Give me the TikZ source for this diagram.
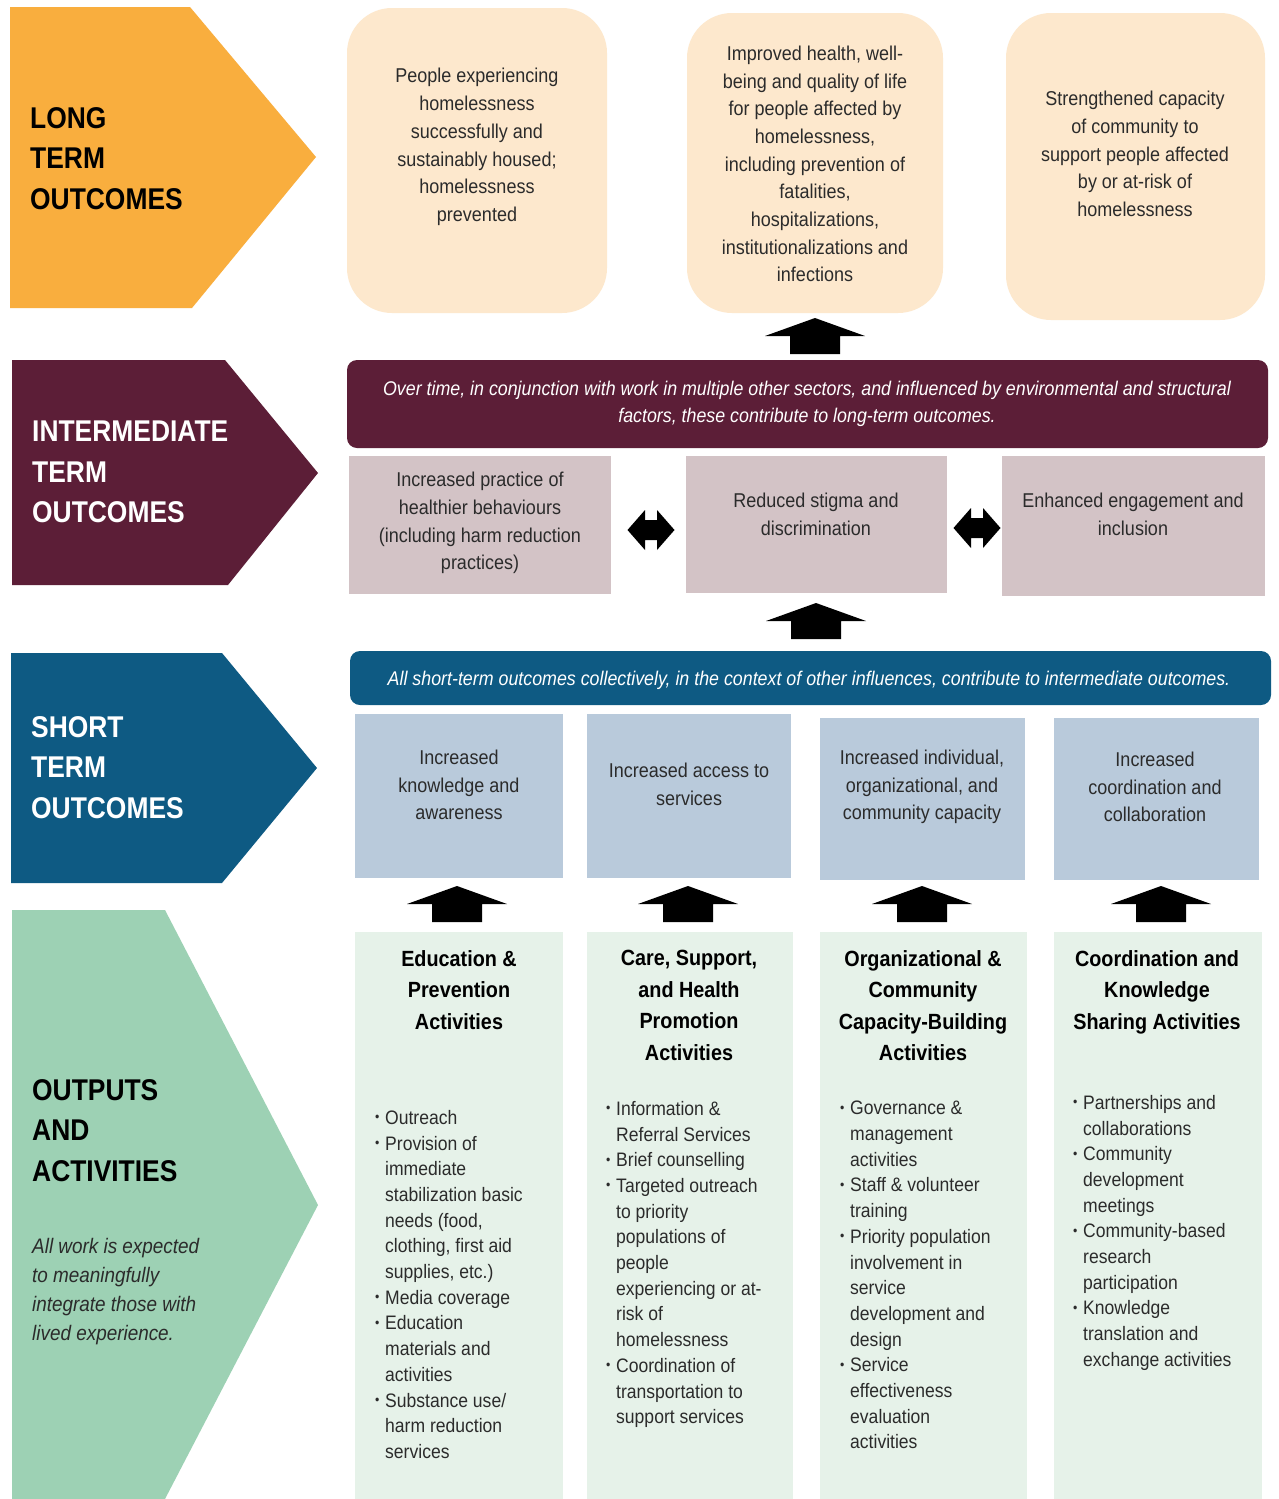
\documentclass[tikz,border=0pt]{standalone}
\usepackage{fontspec}
\setmainfont[FakeStretch=0.9]{Liberation Sans}
\newfontfamily\headfont[FakeStretch=0.88]{Liberation Sans}
\definecolor{ltorange}{HTML}{F9AE3E}
\definecolor{maroonc}{HTML}{5C1E37}
\definecolor{deepblue}{HTML}{0E5A83}
\definecolor{mint}{HTML}{9DD1B4}
\definecolor{peach}{HTML}{FDE8CD}
\definecolor{mauve}{HTML}{D3C3C6}
\definecolor{paleblue}{HTML}{B9CADB}
\definecolor{palegreen}{HTML}{E6F2E9}
\definecolor{txt}{HTML}{2B2B2B}
\newcommand{\bl}{\makebox[10pt][l]{\raisebox{0.25ex}{\scalebox{0.7}{•}}}}
\newcommand{\ind}{\hspace*{10pt}}
\newcommand{\uparr}[2]{\fill[black] (#1-50,#2+18) -- (#1,#2) -- (#1+50,#2+18) -- (#1+25,#2+18) -- (#1+25,#2+36) -- (#1-25,#2+36) -- (#1-25,#2+18) -- cycle;}
\newcommand{\dblarr}[2]{\fill[black] (#1-23.5,#2) -- (#1-6,#2-20) -- (#1-6,#2-10) -- (#1+6,#2-10) -- (#1+6,#2-20) -- (#1+23.5,#2) -- (#1+6,#2+20) -- (#1+6,#2+10) -- (#1-6,#2+10) -- (#1-6,#2+20) -- cycle;}
\begin{document}
\begin{tikzpicture}[x=1pt,y=-1pt,
  heading/.style={anchor=north west, inner sep=0pt, align=left, font=\headfont\fontsize{30}{40.5}\selectfont\bfseries},
  boxtext/.style={inner sep=0pt, align=center, text=txt, font=\fontsize{20}{27.7}\selectfont},
  bannertext/.style={inner sep=0pt, align=center, text=white, font=\fontsize{19.8}{27}\selectfont\itshape},
  titletext/.style={anchor=north, inner sep=0pt, align=center, text=black, font=\fontsize{22}{31.5}\selectfont\bfseries},
  listtext/.style={anchor=north west, inner sep=0pt, align=left, text=txt, font=\fontsize{19.5}{25.7}\selectfont},
  rbox/.style={inner sep=0pt, rounded corners=45pt},
  sbox/.style={inner sep=0pt}
]
\useasboundingbox (0,0) rectangle (1278,1499);
\fill[white] (0,0) rectangle (1278,1499);

% chevrons
\fill[ltorange] (10,7) -- (190,7) -- (316,157) -- (192,308) -- (10,308) -- cycle;
\fill[maroonc] (12,360) -- (225,360) -- (318,473) -- (228,585) -- (12,585) -- cycle;
\fill[deepblue] (11,653) -- (222,653) -- (317,768) -- (222,883) -- (11,883) -- cycle;
\fill[mint] (12,910) -- (165,910) -- (318,1205) -- (165,1499) -- (12,1499) -- cycle;

\node[heading, text=black] (hlong) at (30,107) {LONG\\TERM\\OUTCOMES};
\node[heading, text=white] (hinter) at (32,421) {INTERMEDIATE\\TERM\\OUTCOMES};
\node[heading, text=white] (hshort) at (31,716) {SHORT\\TERM\\OUTCOMES};
\node[heading, text=black] (hout) at (32,1079) {OUTPUTS\\AND\\ACTIVITIES};
\node[anchor=north west, inner sep=0pt, align=left, text=txt, font=\fontsize{21}{29}\selectfont\itshape] (note) at (32,1238)
  {All work is expected\\to meaningfully\\integrate those with\\lived experience.};

% long term boxes
\node[rbox, fill=peach, minimum width=260pt, minimum height=305pt] (L1) at (477,160.5) {};
\node[rbox, fill=peach, minimum width=256pt, minimum height=300pt] (L2) at (815,163) {};
\node[rbox, fill=peach, minimum width=259pt, minimum height=307pt] (L3) at (1135.5,166.5) {};
\node[boxtext] (L1t) at (477,147) {People experiencing\\homelessness\\successfully and\\sustainably housed;\\homelessness\\prevented};
\node[boxtext] (L2t) at (815,164) {Improved health, well-\\being and quality of life\\for people affected by\\homelessness,\\including prevention of\\fatalities,\\hospitalizations,\\institutionalizations and\\infections};
\node[boxtext] (L3t) at (1135,154) {Strengthened capacity\\of community to\\support people affected\\by or at-risk of\\homelessness};

\uparr{815}{318}

% intermediate
\node[sbox, fill=maroonc, rounded corners=10pt, minimum width=921pt, minimum height=88pt] (IB) at (807.5,404) {};
\node[bannertext] (IBt) at (807,404) {Over time, in conjunction with work in multiple other sectors, and influenced by environmental and structural\\factors, these contribute to long-term outcomes.};
\node[sbox, fill=mauve, minimum width=262pt, minimum height=138pt] (I1) at (480,525) {};
\node[sbox, fill=mauve, minimum width=261pt, minimum height=137pt] (I2) at (816.5,524.5) {};
\node[sbox, fill=mauve, minimum width=263pt, minimum height=140pt] (I3) at (1133.5,526) {};
\node[boxtext] (I1t) at (480,523) {Increased practice of\\healthier behaviours\\(including harm reduction\\practices)};
\node[boxtext] (I2t) at (816,514) {Reduced stigma and\\discrimination};
\node[boxtext] (I3t) at (1133,514) {Enhanced engagement and\\inclusion};
\dblarr{651}{530}
\dblarr{977}{528}

\uparr{816}{603}

% short term
\node[sbox, fill=deepblue, rounded corners=10pt, minimum width=921pt, minimum height=54pt] (SB) at (810.5,678) {};
\node[bannertext] (SBt) at (809,680) {All short-term outcomes collectively, in the context of other influences, contribute to intermediate outcomes.};
\node[sbox, fill=paleblue, minimum width=208pt, minimum height=164pt] (S1) at (459,796) {};
\node[sbox, fill=paleblue, minimum width=204pt, minimum height=164pt] (S2) at (689,796) {};
\node[sbox, fill=paleblue, minimum width=205pt, minimum height=162pt] (S3) at (922.5,799) {};
\node[sbox, fill=paleblue, minimum width=205pt, minimum height=162pt] (S4) at (1156.5,799) {};
\node[boxtext] (S1t) at (459,785) {Increased\\knowledge and\\awareness};
\node[boxtext] (S2t) at (689,784) {Increased access to\\services};
\node[boxtext] (S3t) at (922,787) {Increased individual,\\organizational, and\\community capacity};
\node[boxtext] (S4t) at (1155,787) {Increased\\coordination and\\collaboration};

\uparr{457}{886}
\uparr{688}{886}
\uparr{922}{886}
\uparr{1161}{886}

% outputs
\node[sbox, fill=palegreen, minimum width=208pt, minimum height=567pt] (O1) at (459,1215.5) {};
\node[sbox, fill=palegreen, minimum width=206pt, minimum height=567pt] (O2) at (690,1215.5) {};
\node[sbox, fill=palegreen, minimum width=207pt, minimum height=567pt] (O3) at (923.5,1215.5) {};
\node[sbox, fill=palegreen, minimum width=208pt, minimum height=567pt] (O4) at (1158,1215.5) {};
\node[titletext] (O1h) at (459,950) {Education \&\\Prevention\\Activities};
\node[titletext] (O2h) at (689,950) {Care, Support,\\and Health\\Promotion\\Activities};
\node[titletext] (O3h) at (923,950) {Organizational \&\\Community\\Capacity-Building\\Activities};
\node[titletext] (O4h) at (1157,950) {Coordination and\\Knowledge\\Sharing Activities};

\node[listtext] (O1l) at (375,1110) {\bl Outreach\\\bl Provision of\\\ind immediate\\\ind stabilization basic\\\ind needs (food,\\\ind clothing, first aid\\\ind supplies, etc.)\\\bl Media coverage\\\bl Education\\\ind materials and\\\ind activities\\\bl Substance use/\\\ind harm reduction\\\ind services};
\node[listtext] (O2l) at (606,1101) {\bl Information \&\\\ind Referral Services\\\bl Brief counselling\\\bl Targeted outreach\\\ind to priority\\\ind populations of\\\ind people\\\ind experiencing or at-\\\ind risk of\\\ind homelessness\\\bl Coordination of\\\ind transportation to\\\ind support services};
\node[listtext] (O3l) at (840,1101) {\bl Governance \&\\\ind management\\\ind activities\\\bl Staff \& volunteer\\\ind training\\\bl Priority population\\\ind involvement in\\\ind service\\\ind development and\\\ind design\\\bl Service\\\ind effectiveness\\\ind evaluation\\\ind activities};
\node[listtext] (O4l) at (1073,1095) {\bl Partnerships and\\\ind collaborations\\\bl Community\\\ind development\\\ind meetings\\\bl Community-based\\\ind research\\\ind participation\\\bl Knowledge\\\ind translation and\\\ind exchange activities};
\end{tikzpicture}
\end{document}
